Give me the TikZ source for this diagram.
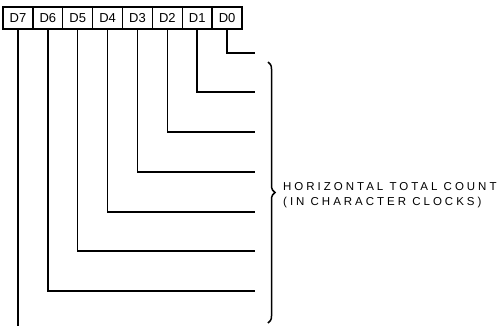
\documentclass[tikz,border=0pt]{standalone}
\usepackage{fontspec}
\setmainfont{Liberation Sans}
\newfontfamily\labelfont[LetterSpace=26]{Liberation Sans}
\usetikzlibrary{decorations.pathreplacing}
\begin{document}
\begin{tikzpicture}[x=1pt,y=-1pt,
  cell/.style={draw,line width=1.4pt,minimum width=29.875pt,minimum height=22pt,inner sep=0pt,outer sep=0pt,font=\fontsize{13}{14}\selectfont},
  wire/.style={line width=1.5pt},
  bracestyle/.style={line width=1.5pt,decorate,decoration={brace,amplitude=7pt}}]
\useasboundingbox (0,0) rectangle (502,325);
\foreach \i [count=\k from 0] in {7,6,5,4,3,2,1,0}{
  \node[cell] (d\i) at ({17.94+29.875*\k},18) {D\i};
}
\coordinate (e0) at (255,53);
\coordinate (e1) at (255,92);
\coordinate (e2) at (255,132);
\coordinate (e3) at (255,172);
\coordinate (e4) at (255,212);
\coordinate (e5) at (255,251);
\coordinate (e6) at (255,291);
\coordinate (e7) at (d7.south |- 0,326);
\foreach \i in {0,...,6}{
  \draw[wire] (d\i.south) |- (e\i);
}
\draw[wire] (d7.south) -- (e7);
\coordinate (btop) at (268,62);
\coordinate (bbot) at (268,323);
\draw[bracestyle] (btop) -- (bbot);
\node[anchor=west,align=left,inner sep=0pt,font=\fontsize{11.5}{15.5}\labelfont] (lbl) at (283,195) {HORIZONTAL TOTAL COUNT\\(IN CHARACTER CLOCKS)};
\end{tikzpicture}
\end{document}
